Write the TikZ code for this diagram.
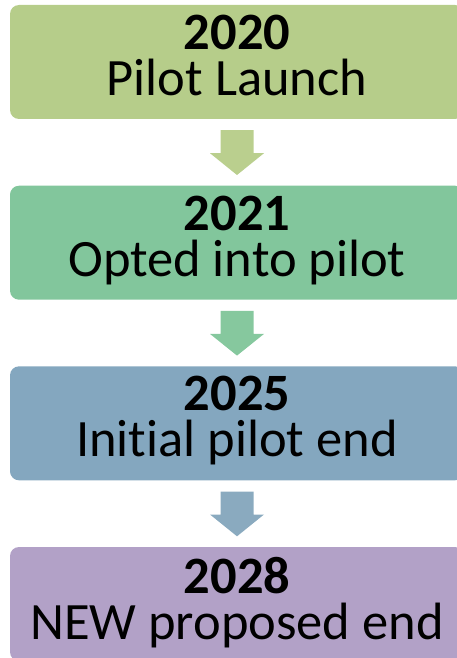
\documentclass[tikz,border=0pt]{standalone}
\usepackage{fontspec}
\setmainfont[Ligatures=NoCommon]{Carlito}
\usetikzlibrary{calc}
\definecolor{boxA}{HTML}{B6CD8A}
\definecolor{arrA}{HTML}{BACF8E}
\definecolor{boxB}{HTML}{82C69C}
\definecolor{arrB}{HTML}{86C89E}
\definecolor{boxC}{HTML}{84A7BF}
\definecolor{arrC}{HTML}{8AAABF}
\definecolor{boxD}{HTML}{B2A1C7}
\tikzset{
  x=1pt, y=-1pt,
  stage/.style={draw=none, rounded corners=9pt, minimum width=454pt, minimum height=114pt, inner sep=0pt},
  stagetext/.style={anchor=north, inner sep=0pt, align=center, font=\fontsize{52.5}{46}\selectfont},
}
\newcommand{\blockarrow}[3]{%
  \fill[#3] ($(#1.south)+(-16.5,11)$) -- ($(#1.south)+(16.5,11)$) --
    ($(#1.south)+(16.5,34)$) -- ($(#1.south)+(27,34)$) --
    ($(#2.north)+(0,-10.5)$) -- ($(#1.south)+(-27,34)$) --
    ($(#1.south)+(-16.5,34)$) -- cycle;}
\begin{document}
\begin{tikzpicture}
\useasboundingbox (0,0) rectangle (457,658);
\clip (0,0) rectangle (457,658);
\node[stage, fill=boxA] (b1) at (237,62) {};
\node[stage, fill=boxB] (b2) at (237,242.7) {};
\node[stage, fill=boxC] (b3) at (237,423.3) {};
\node[stage, fill=boxD] (b4) at (237,604) {};
\foreach \b/\yr/\nm in {b1/2020/Pilot Launch, b2/2021/Opted into pilot, b3/2025/Initial pilot end, b4/2028/NEW proposed end}{
  \node[stagetext] (\b t) at ($(\b.north)+(0,10)$) {\textbf{\yr}\\\nm};
}
\blockarrow{b1}{b2}{arrA}
\blockarrow{b2}{b3}{arrB}
\blockarrow{b3}{b4}{arrC}
\end{tikzpicture}
\end{document}
